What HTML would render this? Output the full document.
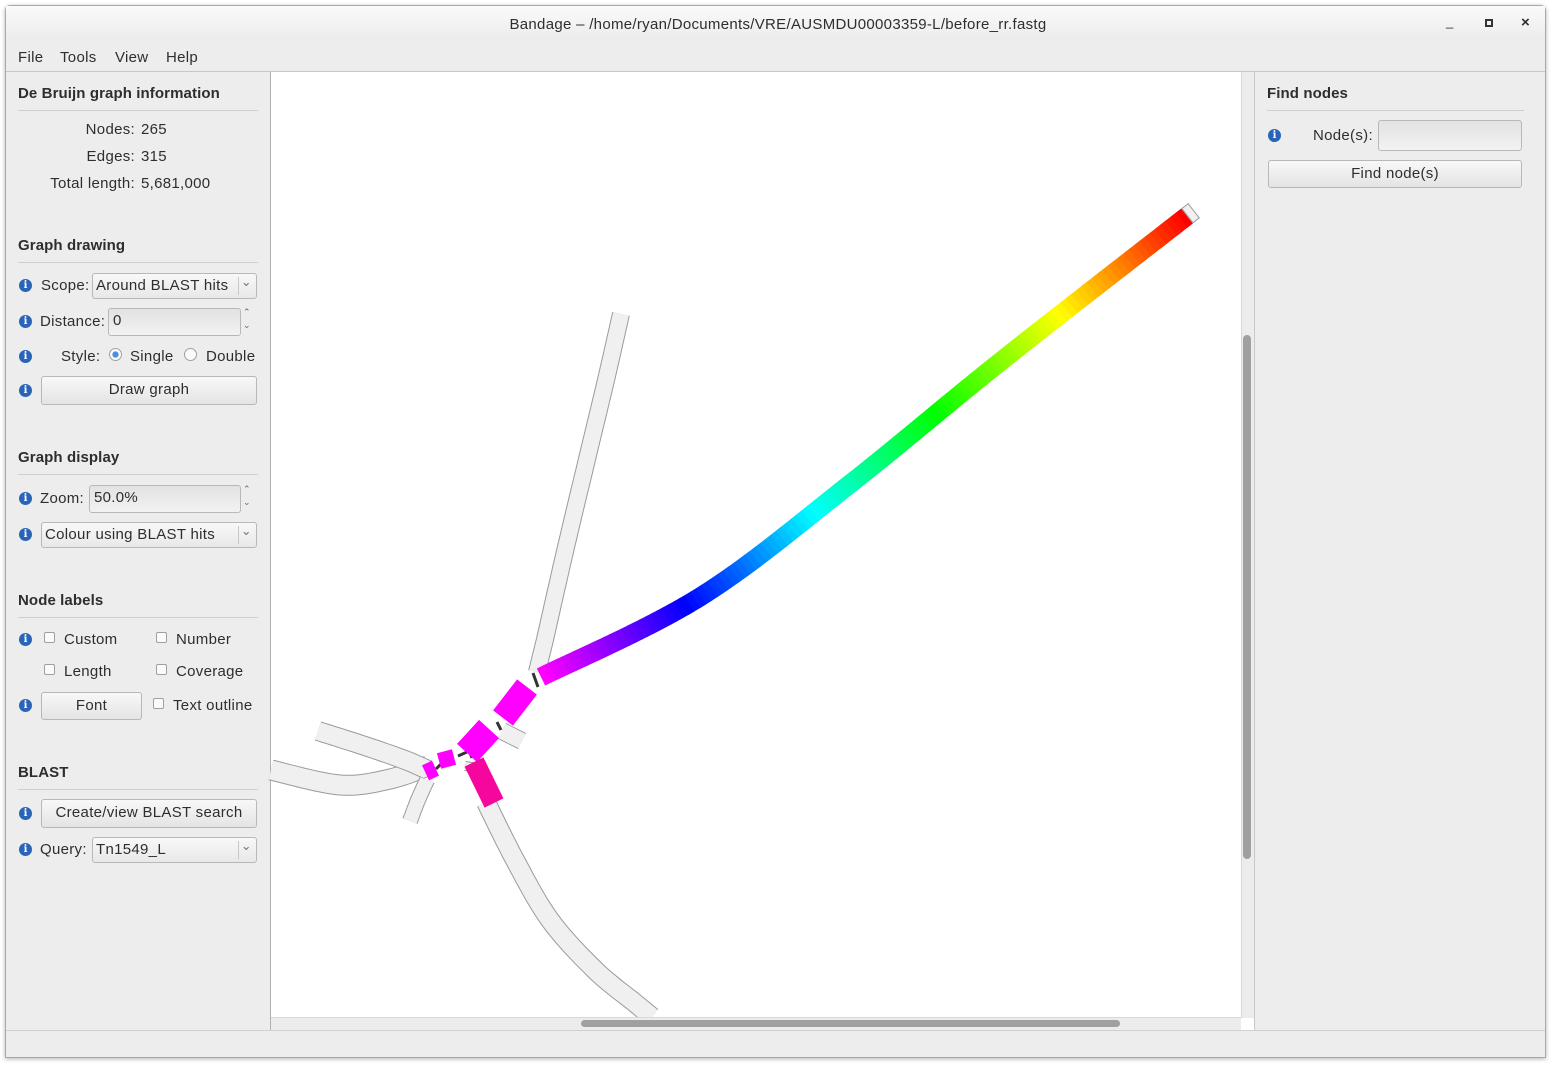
<!DOCTYPE html>
<html><head><meta charset="utf-8">
<style>
*{box-sizing:border-box;margin:0;padding:0}
body{width:1556px;height:1067px;background:#fff;font-family:"Liberation Sans","DejaVu Sans",sans-serif;font-size:15px;letter-spacing:0.3px;color:#2e2e2e;position:relative;overflow:hidden}
.a{position:absolute}
.win{left:5px;top:5px;width:1541px;height:1053px;background:#ededed;border:1px solid #a8a8a8;border-radius:5px 5px 0 0;box-shadow:0 1px 4px rgba(0,0,0,.3)}
.h{font-weight:bold;font-size:15px;letter-spacing:0.1px;color:#2e2e2e}
.sep{height:1px;background:#cfcfcf}
.info{width:13px;height:13px;border-radius:50%;background:#2a64b8;color:#fff;font-size:10px;font-weight:bold;text-align:center;line-height:13px;font-family:"DejaVu Serif",serif;letter-spacing:0}
.btn{border:1px solid #b8b8b8;border-radius:3px;background:linear-gradient(#f8f8f8,#e4e4e4);text-align:center;line-height:26px}
.combo{border:1px solid #b8b8b8;border-radius:3px;background:linear-gradient(#f8f8f8,#e8e8e8);padding-left:3px;line-height:24px}
.combo::after{content:"⌄";position:absolute;right:4px;top:-4px;color:#777;font-size:13px}
.combo .d{position:absolute;right:17px;top:3px;width:1px;height:18px;background:#c8c8c8}
.spin{border:1px solid #b8b8b8;border-radius:3px;background:linear-gradient(#e2e2e2,#f2f2f2);padding-left:4px;line-height:24px}
.cb{width:11px;height:11px;border:1px solid #a0a0a0;border-radius:2px;background:#fafafa}
.rad{width:13px;height:13px;border:1px solid #a0a0a0;border-radius:50%;background:#fafafa}
</style></head><body>
<div class="a win"></div>
<div class="a" style="left:6px;top:6px;width:1539px;height:34px;background:linear-gradient(#fafafa,#ececec)"></div>
<div class="a" style="left:0;top:16px;width:1556px;text-align:center">Bandage – /home/ryan/Documents/VRE/AUSMDU00003359-L/before_rr.fastg</div>
<div class="a" style="left:1446px;top:14px;font-size:13px">_</div>
<div class="a" style="left:1485px;top:19px;width:8px;height:8px;border:2px solid #333"></div>
<div class="a" style="left:1521px;top:14px;font-weight:bold">×</div>
<div class="a" style="left:18px;top:49px">File</div>
<div class="a" style="left:60px;top:49px">Tools</div>
<div class="a" style="left:115px;top:49px">View</div>
<div class="a" style="left:166px;top:49px">Help</div>
<div class="a" style="left:6px;top:71px;width:1539px;height:1px;background:#c8c8c8"></div>

<div class="a h" style="left:18px;top:85px">De Bruijn graph information</div>
<div class="a sep" style="left:18px;top:110px;width:240px"></div>
<div class="a" style="left:0;top:121px;width:135px;text-align:right">Nodes:</div><div class="a" style="left:141px;top:121px">265</div>
<div class="a" style="left:0;top:148px;width:135px;text-align:right">Edges:</div><div class="a" style="left:141px;top:148px">315</div>
<div class="a" style="left:0;top:175px;width:135px;text-align:right">Total length:</div><div class="a" style="left:141px;top:175px">5,681,000</div>

<div class="a h" style="left:18px;top:237px">Graph drawing</div>
<div class="a sep" style="left:18px;top:262px;width:240px"></div>
<div class="a info" style="left:19px;top:279px">i</div>
<div class="a" style="left:41px;top:277px">Scope:</div>
<div class="a combo" style="left:92px;top:273px;width:165px;height:26px">Around BLAST hits<span class="d"></span></div>
<div class="a info" style="left:19px;top:315px">i</div>
<div class="a" style="left:40px;top:313px">Distance:</div>
<div class="a spin" style="left:108px;top:308px;width:133px;height:28px">0</div>
<div class="a" style="left:243px;top:306px;font-size:9px;color:#666;line-height:13px">⌃<br>⌄</div>
<div class="a info" style="left:19px;top:350px">i</div>
<div class="a" style="left:61px;top:348px">Style:</div>
<div class="a rad" style="left:109px;top:348px;background:radial-gradient(#4a8ee0 35%,#fafafa 45%)"></div>
<div class="a" style="left:130px;top:348px">Single</div>
<div class="a rad" style="left:184px;top:348px"></div>
<div class="a" style="left:206px;top:348px">Double</div>
<div class="a info" style="left:19px;top:384px">i</div>
<div class="a btn" style="left:41px;top:376px;width:216px;height:29px">Draw graph</div>

<div class="a h" style="left:18px;top:449px">Graph display</div>
<div class="a sep" style="left:18px;top:474px;width:240px"></div>
<div class="a info" style="left:19px;top:492px">i</div>
<div class="a" style="left:40px;top:490px">Zoom:</div>
<div class="a spin" style="left:89px;top:485px;width:152px;height:28px">50.0%</div>
<div class="a" style="left:243px;top:483px;font-size:9px;color:#666;line-height:13px">⌃<br>⌄</div>
<div class="a info" style="left:19px;top:528px">i</div>
<div class="a combo" style="left:41px;top:522px;width:216px;height:26px">Colour using BLAST hits<span class="d"></span></div>

<div class="a h" style="left:18px;top:592px">Node labels</div>
<div class="a sep" style="left:18px;top:617px;width:240px"></div>
<div class="a info" style="left:19px;top:633px">i</div>
<div class="a cb" style="left:44px;top:632px"></div><div class="a" style="left:64px;top:631px">Custom</div>
<div class="a cb" style="left:156px;top:632px"></div><div class="a" style="left:176px;top:631px">Number</div>
<div class="a cb" style="left:44px;top:664px"></div><div class="a" style="left:64px;top:663px">Length</div>
<div class="a cb" style="left:156px;top:664px"></div><div class="a" style="left:176px;top:663px">Coverage</div>
<div class="a info" style="left:19px;top:699px">i</div>
<div class="a btn" style="left:41px;top:692px;width:101px;height:28px">Font</div>
<div class="a cb" style="left:153px;top:698px"></div><div class="a" style="left:173px;top:697px">Text outline</div>

<div class="a h" style="left:18px;top:764px">BLAST</div>
<div class="a sep" style="left:18px;top:789px;width:240px"></div>
<div class="a info" style="left:19px;top:807px">i</div>
<div class="a btn" style="left:41px;top:799px;width:216px;height:29px">Create/view BLAST search</div>
<div class="a info" style="left:19px;top:843px">i</div>
<div class="a" style="left:40px;top:841px">Query:</div>
<div class="a combo" style="left:92px;top:837px;width:165px;height:26px">Tn1549_L<span class="d"></span></div>

<div class="a" style="left:270px;top:72px;width:985px;height:958px;background:#fff;border-left:1px solid #b0b0b0;border-right:1px solid #c8c8c8"></div>
<svg class="a" style="left:0;top:0" width="1556" height="1067" id="g"></svg>
<div class="a" style="left:1241px;top:72px;width:13px;height:946px;background:#ececec;border-left:1px solid #d8d8d8"></div>
<div class="a" style="left:1243px;top:335px;width:8px;height:524px;background:#a0a0a0;border-radius:4px"></div>
<div class="a" style="left:271px;top:1017px;width:970px;height:13px;background:#ececec;border-top:1px solid #d8d8d8"></div>
<div class="a" style="left:581px;top:1020px;width:539px;height:7px;background:#a0a0a0;border-radius:4px"></div>

<div class="a h" style="left:1267px;top:85px">Find nodes</div>
<div class="a sep" style="left:1267px;top:110px;width:257px"></div>
<div class="a info" style="left:1268px;top:129px">i</div>
<div class="a" style="left:1313px;top:127px">Node(s):</div>
<div class="a spin" style="left:1378px;top:120px;width:144px;height:31px"></div>
<div class="a btn" style="left:1268px;top:160px;width:254px;height:28px">Find node(s)</div>
<div class="a" style="left:6px;top:1030px;width:1539px;height:1px;background:#d0d0d0"></div>

<script>
const rainbowX=[541,700,850,1000,1187];
const rainbowY=[677,597,484,362,216];
const grayNodesX=[[621,606,588,570,555,546,537],[271,340,390,428],[318,365,405,428],[427,418,410],[486,515,550,595,635,652],[502,522],[465,478]];
const grayNodesY=[[314,380,455,530,595,635,672],[770,785,779,766],[731,746,760,770],[780,800,821],[802,860,920,970,1003,1017],[731,741],[766,768]];
const grayW=[16,19,18,14,18,16,8];
const magBlocksX=[[527,503],[489,467],[439,454],[427,434],[474,494]];
const magBlocksY=[[687,718],[729,753],[761,757],[763,778],[762,803]];
const magW=[25,27,16,11,21];
const edgesX1=[533,497,458,436,468];
const edgesY1=[673,722,756,769,748];
const edgesX2=[538,501,467,441,472];
const edgesY2=[687,730,752,764,758];

const svg=document.getElementById('g');const NS='http://www.w3.org/2000/svg';
function line(x1,y1,x2,y2,c,w,name){const l=document.createElementNS(NS,'line');
l.setAttribute('x1',x1);l.setAttribute('y1',y1);l.setAttribute('x2',x2);l.setAttribute('y2',y2);
l.setAttribute('stroke',c);l.setAttribute('stroke-width',w);


svg.appendChild(l);return l;}
function smooth(xs,ys,steps){const out=[];const n=xs.length;
 if(n<3){for(let i=0;i<n;i++)out.push([xs[i],ys[i]]);return out;}
 const P=i=>[xs[Math.max(0,Math.min(n-1,i))],ys[Math.max(0,Math.min(n-1,i))]];
 for(let i=0;i<n-1;i++){const p0=P(i-1),p1=P(i),p2=P(i+1),p3=P(i+2);
  for(let s=0;s<steps;s++){const t=s/steps,t2=t*t,t3=t2*t;
   const f=(a,b,c,d)=>0.5*((2*b)+(-a+c)*t+(2*a-5*b+4*c-d)*t2+(-a+3*b-3*c+d)*t3);
   out.push([f(p0[0],p1[0],p2[0],p3[0]),f(p0[1],p1[1],p2[1],p3[1])]);}}
 out.push([xs[n-1],ys[n-1]]);return out;}
function poly(pts,c,w,name){const p=document.createElementNS(NS,'polyline');
p.setAttribute('points',pts.map(q=>q[0].toFixed(1)+','+q[1].toFixed(1)).join(' '));p.setAttribute('fill','none');
p.setAttribute('stroke',c);p.setAttribute('stroke-width',w);p.setAttribute('stroke-linejoin','round');


svg.appendChild(p);}
grayNodesX.forEach((xs,i)=>{const pts=smooth(xs,grayNodesY[i],10);poly(pts,'#9a9a9a',grayW[i]+2,'gray-node-outline');poly(pts,'#f0f0f0',grayW[i],'gray-node');});
edgesX1.forEach((x,i)=>line(x,edgesY1[i],edgesX2[i],edgesY2[i],'#333',3,'edge'));
magBlocksX.forEach((xs,i)=>line(xs[0],magBlocksY[i][0],xs[1],magBlocksY[i][1],i==4?'#f5079e':'#ff00ff',magW[i],'blast-hit-node'));
const sp=smooth(rainbowX,rainbowY,30);
const L=[0];for(let i=1;i<sp.length;i++)L.push(L[i-1]+Math.hypot(sp[i][0]-sp[i-1][0],sp[i][1]-sp[i-1][1]));
const T=L[L.length-1];function at(d){let i=1;while(i<L.length-1&&L[i]<d)i++;const f=(d-L[i-1])/((L[i]-L[i-1])||1);return[sp[i-1][0]+f*(sp[i][0]-sp[i-1][0]),sp[i-1][1]+f*(sp[i][1]-sp[i-1][1])];}
const N=120;
for(let k=0;k<N;k++){const a=at(T*k/N),b=at(Math.min(T,T*(k+1)/N+0.7));const hue=300-300*k/(N-1);
line(a[0],a[1],b[0],b[1],'hsl('+hue.toFixed(1)+',100%,50%)',19,'rainbow-node-segment');}
const e=at(T),e0=at(T-5);const dx=(e[0]-e0[0])/5,dy=(e[1]-e0[1])/5;
line(e[0],e[1],e[0]+dx*9,e[1]+dy*9,'#999',19,'rainbow-node-end');line(e[0]+dx,e[1]+dy,e[0]+dx*8,e[1]+dy*8,'#f0f0f0',17,'rainbow-node-end');
</script>
</body></html>
